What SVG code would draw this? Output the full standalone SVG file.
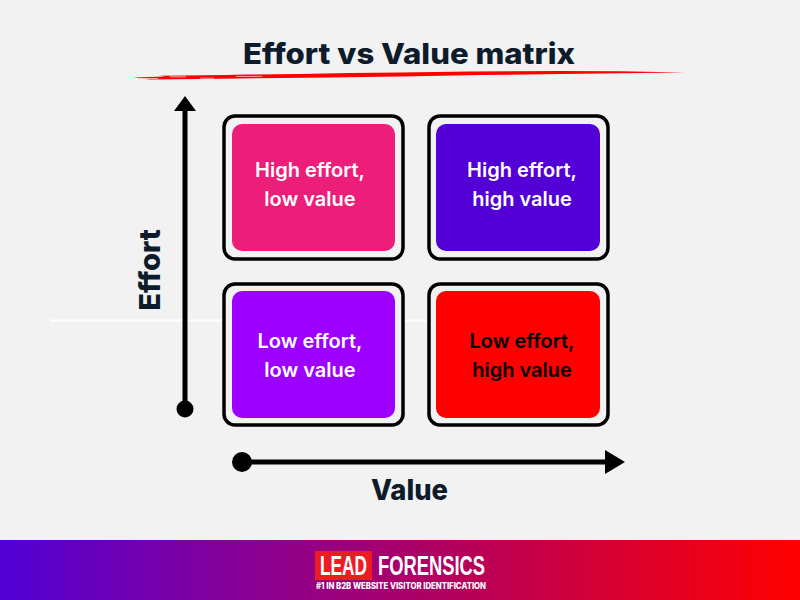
<svg xmlns="http://www.w3.org/2000/svg" width="800" height="600" viewBox="0 0 800 600">
<style>
text{font-family:"Inter","Lato","Liberation Sans",sans-serif;font-weight:600;text-anchor:middle}
.lbl{font-size:20px;fill:#fff}
.axis{font-size:29px;font-weight:800;fill:#0d1b2a}
.logo{font-family:"Liberation Sans",sans-serif;font-weight:700;font-size:27px;fill:#fff;text-anchor:start}
.frame{fill:#f2f2f2;stroke:#000;stroke-width:3.500}
.conn{stroke:#000;stroke-width:5;fill:none}
</style>
<defs><linearGradient id="g" x1="0" x2="1" y1="0" y2="0"><stop offset="0" stop-color="#5200d6"/><stop offset="1" stop-color="#ff0000"/></linearGradient></defs>
<rect width="800" height="600" fill="#f2f2f2"/>
<rect x="50" y="319.500" width="376" height="2" fill="#fff"/>
<text x="409" y="64" style="font-size:29px;font-weight:800;fill:#0d1b2a" textLength="332" lengthAdjust="spacingAndGlyphs">Effort vs Value matrix</text>
<path d="M134 77.500 L165 76.500 L160 75.800 L225 75 L245 74.500 L300 74 L350 73 L400 72.500 L470 71.500 L560 71 L620 71.200 L685 72.500 L640 73 L560 74 L480 75 L400 76.500 L330 77.500 L240 78.500 L200 79 L150 79.500Z" fill="#f00"/>
<path d="M140 78.500H158M170 76.800H186M200 78.200H214M236 76.400H262" stroke="#f2f2f2" stroke-width=".7" fill="none"/>
<g id="connectors">
<path class="conn" d="M185 108V409"/><path d="M174 111L185 96L196 111Z"/><circle cx="185" cy="409" r="8.500"/>
<path class="conn" d="M242 462H610"/><path d="M605 450L625 462L605 474Z"/><circle cx="242" cy="462" r="10"/>
</g>
<g id="n1"><rect class="frame" x="224" y="116" width="179" height="143" rx="11"/><rect x="232" y="124" width="163" height="127" rx="10" fill="#ed1e79"/><text class="lbl" x="310" y="177">High effort,</text><text class="lbl" x="310" y="206">low value</text></g>
<g id="n2"><rect class="frame" x="429" y="116" width="179" height="143" rx="11"/><rect x="436" y="124" width="164" height="127" rx="10" fill="#5200d6"/><text class="lbl" x="522" y="177">High effort,</text><text class="lbl" x="522" y="206">high value</text></g>
<g id="n3"><rect class="frame" x="224" y="284" width="179" height="141" rx="11"/><rect x="232" y="291" width="163" height="127" rx="10" fill="#9d00ff"/><text class="lbl" x="310" y="348">Low effort,</text><text class="lbl" x="310" y="377">low value</text></g>
<g id="n4"><rect class="frame" x="429" y="284" width="179" height="141" rx="11"/><rect x="436" y="291" width="164" height="127" rx="10" fill="#f00"/><text class="lbl" x="522" y="348" style="fill:#000">Low effort,</text><text class="lbl" x="522" y="377" style="fill:#000">high value</text></g>
<text class="axis" transform="translate(160 270) rotate(-90)">Effort</text>
<text class="axis" x="409.500" y="500" textLength="77" lengthAdjust="spacingAndGlyphs">Value</text>
<g id="footer"><rect y="540" width="800" height="60" fill="url(#g)"/>
<rect x="315" y="551" width="57" height="29" fill="#ed1c24"/>
<text class="logo" transform="translate(320 575) scale(.64 1)">LEAD</text>
<text class="logo" transform="translate(378 575) scale(.68 1)">FORENSICS</text>
<text x="401" y="589" style="font-size:8.500px;font-weight:800;fill:#fff" textLength="170" lengthAdjust="spacingAndGlyphs">#1 IN B2B WEBSITE VISITOR IDENTIFICATION</text></g>
</svg>
